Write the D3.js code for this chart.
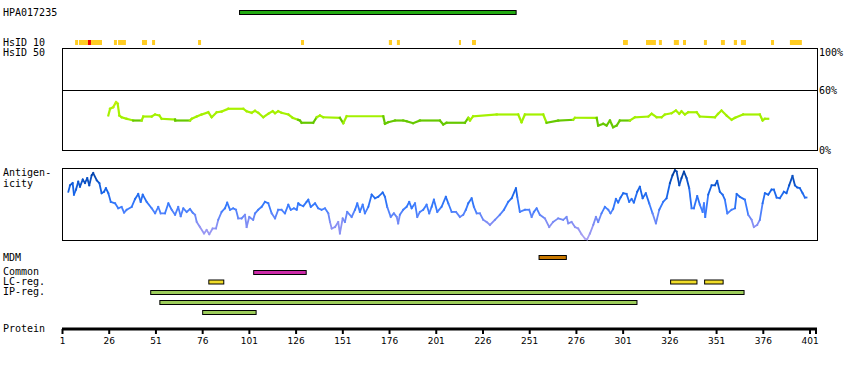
<!DOCTYPE html>
<html>
<head>
<meta charset="utf-8">
<script src="https://cdn.jsdelivr.net/npm/d3@7"></script>
<style>
  body { margin: 0; background: #fff; }
  svg text { font-family: "DejaVu Sans Mono", monospace; font-size: 10px; fill: #000; }
  .tick text { font-family: "DejaVu Sans", sans-serif; font-size: 9px; }
</style>
</head>
<body>
<script>
'use strict';

// protein length and antibody region
const seqLen = 405;
const hpaRange = [96, 244];

// HsID 10 hits (residue ranges)
const hsidHits = [[8, 9.6], [10.1, 14.9], [16.5, 22.4], [28.8, 30.4], [31, 35.2], [43.8, 46.5],
  [49.2, 50.8], [73.8, 75.4], [128.9, 130.5], [175.9, 177.6], [180.2, 181.8], [213.4, 214.5],
  [220.4, 222.5], [301.2, 303.8], [313.5, 318.8], [320.4, 322], [328.4, 331.1], [333.3, 334.9],
  [344.5, 346.1], [353.6, 355.7], [360.5, 362.2], [364.3, 367], [380.4, 382], [390.5, 396.9]];
const hsidStrong = [[14.9, 16.5]];

// identity (%) along the sequence
const idPos = [25.8,26.7,28.4,29.9,30.8,31.7,32.9,35.6,39.1,43.6,44.5,49,50.8,53.1,54.3,61.5,61.6,69.5,70.4,73.1,
  75.7,79.3,81.1,83.8,86.4,90,98,99.8,102.5,104.3,106,108.7,111.4,113.7,115,116.7,118.5,122.1,124.4,127.4,
  128.3,129.2,135.4,137.3,139,140.8,149.7,151.5,153.3,172.9,173.8,175.6,179.2,183.6,185.4,188.9,192.5,203.2,205,206.8,
  216.6,218.4,219.3,221,233.6,245.1,246.9,248.7,258.5,260.3,266.5,274.5,275.5,287.1,287.9,290.6,292.4,294.2,295.9,297.8,
  299.5,304.9,307.6,314.7,316.5,319.2,321.8,323.6,327.2,329.5,331.3,332.5,334.3,336.1,340.6,342.3,350.4,352.1,353.9,356.6,
  359.3,361.1,365.5,374.4,375.9,377.1,378.9];
const idPct = [34.3,40.9,42.5,47.4,45.8,34.3,32.6,31.1,29.4,29.4,33.3,33.3,35.3,34.3,31.1,30.4,29.4,29.4,31.1,33.3,
  35.3,37.5,32.6,37.5,38.2,40.9,40.9,38.5,37,38.9,37,32.6,36,38.5,36.6,38.5,37,35.3,32.1,30.1,
  29.4,27.2,27.2,32.6,34.3,32.6,32.1,26.8,33.6,33.6,26.2,27.7,29.4,29.4,28.7,26.8,29.4,29.4,25.5,27.2,
  27.2,32.1,29.4,33.6,35.3,35.3,27.7,35.3,35.3,27.2,29.4,30.1,32.1,32,24.5,26.2,24.5,29.4,22.8,24.5,
  29.4,29.4,32.6,33.3,36,32.6,32.6,35.3,36.6,39.2,36,38.5,35.3,37.5,37.5,33.3,32.6,36,39.2,34.3,
  30.1,32.1,35.3,35.3,29.4,31.1,31.1];

// antigenicity score (0-100) along the sequence
const agPos = [4.4,5.3,6.7,7.4,8.5,9.7,10.6,12.1,13.3,14.5,15.6,16.9,17.7,19.6,21,22.2,23.5,24.5,25.8,27.1,
  29.4,31.1,32.9,34.2,35.6,38.3,40.1,41.8,43.1,44.2,46.3,49,50.8,52.5,53.8,56.1,57.9,59.7,61.5,63.2,
  64.5,65.9,67.7,69.5,70.9,72.2,73.1,74.8,77,78.4,79.8,81.6,83.4,84.6,86.4,88.2,89.4,90.9,92.6,94.1,
  95.3,97.1,98.9,99.8,101.2,103.3,104.3,106,107.8,109.6,111.4,113.2,115,116.7,118.5,120.3,122.1,123.4,125.1,126.6,
  127.4,128.3,130.1,131.9,132.8,134.1,136.4,138.1,139.9,141.7,143.5,144.4,145.3,147.1,148.8,149.7,151.2,152.4,153.6,156,
  157.8,159,160.4,161.9,163.1,164.9,166.7,168.5,170.2,172.6,173.8,175,176.9,178.6,180.1,180.9,181.8,183.6,185.4,186.8,
  188.1,189.9,191.1,192.5,194.3,196.1,197.5,198.8,200,201.8,204.1,206.4,207.7,209.5,211.8,213.9,215.7,217.1,218.4,220.2,
  221.4,222.9,224.6,226.4,228.2,230,232.7,235.3,237.5,239.8,241.6,243.9,244.6,246,248.7,251,252.3,253.5,255,256.7,
  259.4,261.7,263.8,266.5,269.2,271,271.9,273.7,275.5,277.2,279,280.8,282,283.5,285.3,286.7,287.9,289.7,291.5,293.3,
  294.5,295.9,297.4,298.6,299.9,301.3,303.1,304.5,305.8,307,308.8,310.2,311.7,313.4,315.2,317,318.8,320.6,322.7,324.5,
  326.3,327.7,329,329.9,331.3,332.5,333.8,335.2,336.6,337.9,339.1,340.9,342.3,343.8,344.5,345.2,346.8,348.6,350.4,351.6,
  353,354.5,355.7,357,359.3,361.1,362,363.7,366.4,368.2,370,371.2,373,374.4,375.9,377.1,378.9,380.7,381.9,383.4,
  385.1,387.3,388.7,390.1,391.9,393.2,394.4,395.8,397.3,398.5,399.4];
const agScore = [67,76,79,63,70,81,74,84,79,86,76,90,93,83,79,65,67,72,65,53,
  51,44,46,38,42,46,57,64,53,63,53,44,37,46,37,37,51,42,35,46,
  33,44,39,43,38,35,25,18,9,14,8,16,16,28,39,44,52,42,44,42,
  30,30,35,18,32,28,37,42,46,53,51,37,30,42,42,37,49,42,44,42,
  51,49,47,53,56,46,51,44,42,44,37,25,16,18,25,9,30,25,39,32,
  42,51,39,49,37,46,63,58,60,66,60,46,32,37,32,23,35,42,46,53,
  44,51,32,39,42,49,37,46,56,39,46,60,51,39,39,32,35,42,51,58,
  46,37,37,28,25,21,28,35,42,53,58,72,60,39,42,42,32,39,44,35,
  30,18,25,30,28,32,23,25,18,16,8,2,1,9,21,32,25,37,46,42,
  37,43,57,52,59,65,64,53,57,52,67,74,58,65,51,37,23,42,53,58,
  79,90,97,95,76,86,95,86,72,44,44,61,49,39,51,32,63,76,76,82,
  67,63,56,37,42,44,64,60,56,35,28,18,21,28,51,65,63,70,70,59,
  58,67,65,76,89,76,73,72,65,59,59];

// feature tracks (residue ranges)
const mdm = [[256, 270.6]];
const common = [[103.3, 131.4]];
const lcReg = [[79.3, 87.3], [326.4, 340.5], [344.6, 354.5]];
const ipReg = [[48.2, 365.7], [53.1, 308.4], [76, 104.6]];

const axisTicks = d3.range(1, 402, 25);

const width = 850, height = 370;
const svg = d3.select("body").append("svg")
    .attr("width", width).attr("height", height);

const x = d3.scaleLinear().domain([1, seqLen]).range([62, 817]);

// left labels
const labels = [["HPA017235", 16], ["HsID 10", 45.5], ["HsID 50", 56], ["Antigen-", 176], ["icity", 187],
  ["MDM", 261], ["Common", 275], ["LC-reg.", 285], ["IP-reg.", 295], ["Protein", 332]];
svg.selectAll("text.lbl").data(labels).enter().append("text")
    .attr("class", "lbl")
    .attr("x", 3).attr("y", d => d[1])
    .text(d => d[0]);

// antibody bar
svg.append("rect")
    .attr("x", x(hpaRange[0])).attr("y", 10.5)
    .attr("width", x(hpaRange[1]) - x(hpaRange[0])).attr("height", 4)
    .attr("fill", "#22aa11").attr("stroke", "#000").attr("stroke-width", 1);

// HsID 10 marks
svg.selectAll("rect.hs").data(hsidHits).enter().append("rect")
    .attr("x", d => x(d[0])).attr("y", 40)
    .attr("width", d => x(d[1]) - x(d[0])).attr("height", 5)
    .attr("fill", "#ffcc22");
svg.selectAll("rect.hsr").data(hsidStrong).enter().append("rect")
    .attr("x", d => x(d[0])).attr("y", 40)
    .attr("width", d => x(d[1]) - x(d[0])).attr("height", 5)
    .attr("fill", "#ee0000");

// identity panel
const yId = d3.scaleLinear().domain([0, 100]).range([150.5, 48.5]);
svg.append("rect").attr("x", 62.5).attr("y", 48.5).attr("width", 755).attr("height", 102)
    .attr("fill", "none").attr("stroke", "#000");
svg.append("line").attr("x1", 62).attr("x2", 818).attr("y1", 90.5).attr("y2", 90.5).attr("stroke", "#000");
[["100%", 56], ["60%", 94], ["0%", 153.5]].forEach(d => {
  svg.append("text").attr("x", 819).attr("y", d[1]).text(d[0]);
});

const idColor = d3.scaleLinear().domain([29.9, 30, 42, 48])
    .range(["#66c800", "#a0f000", "#aaf200", "#ccee11"]).clamp(true);
const idPts = d3.zip(idPos, idPct);
const idLine = d3.line().x(d => x(d[0])).y(d => yId(d[1]));
svg.append("g").selectAll("path").data(d3.pairs(idPts)).enter().append("path")
    .attr("d", d => idLine(d))
    .attr("fill", "none")
    .attr("stroke", d => idColor((d[0][1] + d[1][1]) / 2))
    .attr("stroke-width", 2.2)
    .attr("stroke-linecap", "square");

// antigenicity panel
const yAg = d3.scaleLinear().domain([0, 100]).range([240, 168]);
svg.append("rect").attr("x", 62.5).attr("y", 168.5).attr("width", 755).attr("height", 72)
    .attr("fill", "none").attr("stroke", "#000");
const agColor = d3.scaleLinear().domain([0, 25, 45, 70, 95])
    .range(["#b0a2f2", "#7f8cf4", "#3a7cff", "#1462e6", "#003d9e"]).clamp(true);
const agPts = d3.zip(agPos, agScore);
const agLine = d3.line().x(d => x(d[0])).y(d => yAg(d[1]));
svg.append("g").selectAll("path").data(d3.pairs(agPts)).enter().append("path")
    .attr("d", d => agLine(d))
    .attr("fill", "none")
    .attr("stroke", d => agColor((d[0][1] + d[1][1]) / 2))
    .attr("stroke-width", 1.8)
    .attr("stroke-linecap", "square");

// feature tracks
function track(data, y0, fill) {
  svg.append("g").selectAll("rect").data(data).enter().append("rect")
      .attr("x", d => x(d[0]) + 0.5).attr("y", (d, i) => y0[i] + 0.5)
      .attr("width", d => x(d[1]) - x(d[0])).attr("height", 4)
      .attr("fill", fill).attr("stroke", "#000").attr("stroke-width", 1);
}
track(mdm, [255], "#c87800");
track(common, [270], "#cc2aa8");
track(lcReg, [279.5, 279.5, 279.5], "#f0dc28");
track(ipReg, [290, 300, 310], "#9ccc5a");

// protein axis
const axis = d3.axisBottom(x).tickValues(axisTicks).tickSize(5).tickSizeOuter(0).tickPadding(4);
const ax = svg.append("g").attr("transform", "translate(0,329)").call(axis);
ax.select(".domain").remove();
ax.selectAll(".tick line").attr("stroke-width", 2);
ax.append("line").attr("x1", x(seqLen) - 1).attr("x2", x(seqLen) - 1).attr("y1", 0).attr("y2", 5)
    .attr("stroke", "#000").attr("stroke-width", 2);
ax.append("rect").attr("x", 62).attr("y", -1.5).attr("width", 755).attr("height", 3).attr("fill", "#000");
</script>
</body>
</html>
